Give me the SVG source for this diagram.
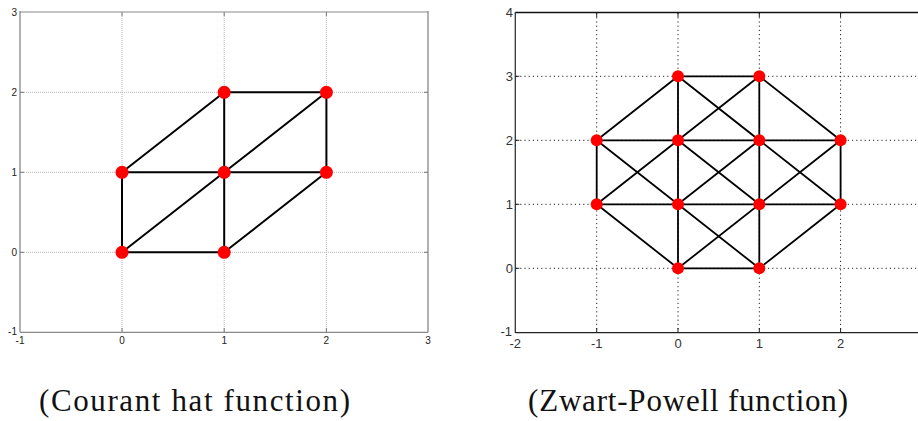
<svg xmlns="http://www.w3.org/2000/svg" width="918" height="421" viewBox="0 0 918 421">
<style>
.gl{stroke:#b4b4b4;stroke-width:1;stroke-dasharray:1 1;fill:none}
.gr{stroke:#222;stroke-width:1;stroke-dasharray:1.2 3;fill:none}
.e{stroke:#000;stroke-width:2;stroke-linecap:round}
.e2{stroke:#000;stroke-width:1.8;stroke-linecap:round}
.n{fill:#ff0000}
.tl{font-family:"Liberation Sans",Arial,sans-serif;font-size:10px;fill:#222}
.tr{font-family:"Liberation Sans",Arial,sans-serif;font-size:13px;fill:#333}
.cap{font-family:"Liberation Serif","Times New Roman",serif;font-size:31px;fill:#111}
</style>
<rect width="918" height="421" fill="#fff"/>

<g id="left-axes">
<path class="gl" d="M122 12V332M224.2 12V332M326.4 12V332M20 92.3H428M20 172.3H428M20 252.3H428"/>
<line x1="20" y1="12" x2="428" y2="12" stroke="#c4c4c4" stroke-width="2"/>
<line x1="428" y1="11" x2="428" y2="332.3" stroke="#888" stroke-width="1.3"/>
<line x1="20" y1="11" x2="20" y2="332.3" stroke="#888" stroke-width="1.3"/>
<line x1="20" y1="332.3" x2="428" y2="332.3" stroke="#888" stroke-width="1.3"/>
<path d="M122 12v4M224.2 12v4M326.4 12v4M122 332v-4M224.2 332v-4M326.4 332v-4M20 92.3h4M20 172.3h4M20 252.3h4M428 92.3h-4M428 172.3h-4M428 252.3h-4" stroke="#777" stroke-width="1"/>
<text class="tl" x="17" y="16" text-anchor="end">3</text>
<text class="tl" x="17" y="96" text-anchor="end">2</text>
<text class="tl" x="17" y="176" text-anchor="end">1</text>
<text class="tl" x="17" y="256" text-anchor="end">0</text>
<text class="tl" x="17" y="335" text-anchor="end">-1</text>
<text class="tl" x="20" y="344" text-anchor="middle">-1</text>
<text class="tl" x="122" y="344" text-anchor="middle">0</text>
<text class="tl" x="224.2" y="344" text-anchor="middle">1</text>
<text class="tl" x="326.4" y="344" text-anchor="middle">2</text>
<text class="tl" x="428" y="344" text-anchor="middle">3</text>
</g>

<g id="left-edges">
<line class="e" x1="122" y1="252.3" x2="224.2" y2="252.3"/>
<line class="e" x1="122" y1="252.3" x2="122" y2="172.3"/>
<line class="e" x1="122" y1="252.3" x2="224.2" y2="172.3"/>
<line class="e" x1="224.2" y1="252.3" x2="224.2" y2="172.3"/>
<line class="e" x1="224.2" y1="252.3" x2="326.4" y2="172.3"/>
<line class="e" x1="122" y1="172.3" x2="224.2" y2="172.3"/>
<line class="e" x1="122" y1="172.3" x2="224.2" y2="92.3"/>
<line class="e" x1="224.2" y1="172.3" x2="326.4" y2="172.3"/>
<line class="e" x1="224.2" y1="172.3" x2="224.2" y2="92.3"/>
<line class="e" x1="224.2" y1="172.3" x2="326.4" y2="92.3"/>
<line class="e" x1="326.4" y1="172.3" x2="326.4" y2="92.3"/>
<line class="e" x1="224.2" y1="92.3" x2="326.4" y2="92.3"/>
</g>

<g id="left-nodes">
<circle id="L00" class="n" cx="122" cy="252.3" r="6.5"/>
<circle id="L10" class="n" cx="224.2" cy="252.3" r="6.5"/>
<circle id="L01" class="n" cx="122" cy="172.3" r="6.5"/>
<circle id="L11" class="n" cx="224.2" cy="172.3" r="6.5"/>
<circle id="L21" class="n" cx="326.4" cy="172.3" r="6.5"/>
<circle id="L12" class="n" cx="224.2" cy="92.3" r="6.5"/>
<circle id="L22" class="n" cx="326.4" cy="92.3" r="6.5"/>
</g>

<g id="right-axes">
<path class="gr" d="M596.7 13V332M678 13V332M759.3 13V332M840.6 13V332M516 76.3H918M516 140.3H918M516 204.3H918M516 268.3H918"/>
<line x1="515.3" y1="12.5" x2="918" y2="12.5" stroke="#111" stroke-width="1.3"/>
<line x1="515.3" y1="12" x2="515.3" y2="333" stroke="#333" stroke-width="1.3"/>
<line x1="515.3" y1="332.6" x2="918" y2="332.6" stroke="#222" stroke-width="1.3"/>
<path d="M596.7 13v4M678 13v4M759.3 13v4M840.6 13v4M596.7 332v-4M678 332v-4M759.3 332v-4M840.6 332v-4M515.3 76.3h4M515.3 140.3h4M515.3 204.3h4M515.3 268.3h4" stroke="#222" stroke-width="1"/>
<text class="tr" x="513" y="17" text-anchor="end">4</text>
<text class="tr" x="513" y="81" text-anchor="end">3</text>
<text class="tr" x="513" y="145" text-anchor="end">2</text>
<text class="tr" x="513" y="209" text-anchor="end">1</text>
<text class="tr" x="513" y="273" text-anchor="end">0</text>
<text class="tr" x="512" y="336" text-anchor="end">-1</text>
<text class="tr" x="515.3" y="348" text-anchor="middle">-2</text>
<text class="tr" x="596.7" y="348" text-anchor="middle">-1</text>
<text class="tr" x="678" y="348" text-anchor="middle">0</text>
<text class="tr" x="759.3" y="348" text-anchor="middle">1</text>
<text class="tr" x="840.6" y="348" text-anchor="middle">2</text>
</g>

<g id="right-edges">
<line class="e2" x1="678" y1="76.3" x2="759.3" y2="76.3"/>
<line class="e2" x1="596.7" y1="140.3" x2="840.6" y2="140.3"/>
<line class="e2" x1="596.7" y1="204.3" x2="840.6" y2="204.3"/>
<line class="e2" x1="678" y1="268.3" x2="759.3" y2="268.3"/>
<line class="e2" x1="596.7" y1="140.3" x2="596.7" y2="204.3"/>
<line class="e2" x1="678" y1="76.3" x2="678" y2="268.3"/>
<line class="e2" x1="759.3" y1="76.3" x2="759.3" y2="268.3"/>
<line class="e2" x1="840.6" y1="140.3" x2="840.6" y2="204.3"/>
<line class="e2" x1="596.7" y1="140.3" x2="678" y2="76.3"/>
<line class="e2" x1="596.7" y1="204.3" x2="759.3" y2="76.3"/>
<line class="e2" x1="678" y1="268.3" x2="840.6" y2="140.3"/>
<line class="e2" x1="759.3" y1="268.3" x2="840.6" y2="204.3"/>
<line class="e2" x1="678" y1="204.3" x2="759.3" y2="140.3"/>
<line class="e2" x1="759.3" y1="76.3" x2="840.6" y2="140.3"/>
<line class="e2" x1="678" y1="76.3" x2="840.6" y2="204.3"/>
<line class="e2" x1="596.7" y1="140.3" x2="759.3" y2="268.3"/>
<line class="e2" x1="596.7" y1="204.3" x2="678" y2="268.3"/>
<line class="e2" x1="678" y1="140.3" x2="759.3" y2="204.3"/>
</g>

<g id="right-nodes">
<circle id="R03" class="n" cx="678" cy="76.3" r="6"/>
<circle id="R13" class="n" cx="759.3" cy="76.3" r="6"/>
<circle id="Rm12" class="n" cx="596.7" cy="140.3" r="6"/>
<circle id="R02" class="n" cx="678" cy="140.3" r="6"/>
<circle id="R12" class="n" cx="759.3" cy="140.3" r="6"/>
<circle id="R22" class="n" cx="840.6" cy="140.3" r="6"/>
<circle id="Rm11" class="n" cx="596.7" cy="204.3" r="6"/>
<circle id="R01" class="n" cx="678" cy="204.3" r="6"/>
<circle id="R11" class="n" cx="759.3" cy="204.3" r="6"/>
<circle id="R21" class="n" cx="840.6" cy="204.3" r="6"/>
<circle id="R00" class="n" cx="678" cy="268.3" r="6"/>
<circle id="R10" class="n" cx="759.3" cy="268.3" r="6"/>
</g>

<g id="captions">
<text class="cap" x="39" y="411" textLength="311" lengthAdjust="spacing">(Courant hat function)</text>
<text class="cap" x="528" y="411" textLength="320" lengthAdjust="spacing">(Zwart-Powell function)</text>
</g>
</svg>
